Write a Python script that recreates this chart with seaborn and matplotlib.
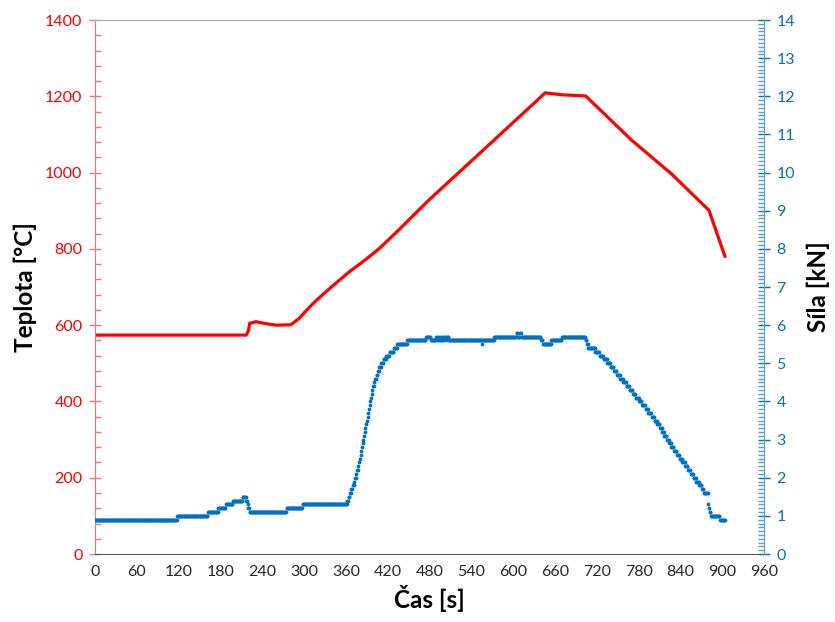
import numpy as np
import pandas as pd
import matplotlib.pyplot as plt
from matplotlib.ticker import MultipleLocator
import seaborn as sns

# Teplota - body
cas_teplota = [0, 100, 217, 220, 222, 231, 245, 260, 281, 293, 305, 317, 341, 365, 389, 408,
               436, 479, 560, 646, 670, 704, 770, 827, 881, 904]
teplota = [574, 574, 574, 585, 605, 609, 604, 600, 601, 618, 642, 664, 703, 740, 773, 801,
           850, 928, 1064, 1209, 1204, 1201, 1085, 997, 901, 780]

# Sila - useky s konstantni hodnotou (zacatek useku [s], hodnota [kN])
sila_zacatek = [0, 118, 162, 177, 188, 198, 212, 217, 219, 220, 222, 275, 298,
                362, 364, 366, 368, 370, 372, 373, 375, 376, 378, 379, 380, 381, 382,
                383, 384, 385, 386, 387, 388, 389, 390, 391, 392, 393, 394, 395, 396,
                397, 398, 399, 401, 402, 404, 406, 408, 411, 414, 418, 423, 429, 434,
                448, 475, 482, 490, 492, 494, 496, 498, 500, 502, 505, 506, 508, 556,
                557, 573, 605, 607, 610, 612, 640, 643, 655, 670, 704, 706, 708,
                718, 724, 730, 735, 740, 745, 749, 754, 758, 763, 767, 772, 776, 781,
                785, 790, 794, 799, 803, 807, 811, 814, 817, 821, 824, 827, 831, 835,
                839, 843, 847, 851, 855, 859, 863, 867, 871, 874, 880, 881, 882, 884, 897]
sila_hodnota = [0.9, 1.0, 1.1, 1.2, 1.3, 1.4, 1.5, 1.4, 1.3, 1.2, 1.1, 1.2, 1.3,
                1.4, 1.5, 1.6, 1.7, 1.8, 1.9, 2.0, 2.1, 2.2, 2.3, 2.4, 2.5, 2.6, 2.7,
                2.8, 2.9, 3.0, 3.1, 3.2, 3.3, 3.4, 3.5, 3.6, 3.7, 3.8, 3.9, 4.0, 4.1,
                4.2, 4.3, 4.4, 4.5, 4.6, 4.7, 4.8, 4.9, 5.0, 5.1, 5.2, 5.3, 5.4, 5.5,
                5.6, 5.7, 5.6, 5.7, 5.6, 5.7, 5.6, 5.7, 5.6, 5.7, 5.6, 5.7, 5.6, 5.5,
                5.6, 5.7, 5.8, 5.7, 5.8, 5.7, 5.6, 5.5, 5.6, 5.7, 5.6, 5.5, 5.4,
                5.3, 5.2, 5.1, 5.0, 4.9, 4.8, 4.7, 4.6, 4.5, 4.4, 4.3, 4.2, 4.1, 4.0,
                3.9, 3.8, 3.7, 3.6, 3.5, 3.4, 3.3, 3.2, 3.1, 3.0, 2.9, 2.8, 2.7, 2.6,
                2.5, 2.4, 2.3, 2.2, 2.1, 2.0, 1.9, 1.8, 1.7, 1.6, 1.3, 1.2, 1.1, 1.0, 0.9]
sila_konec = 905

# rozvinout useky na vzorky po 1 s
konce = sila_zacatek[1:] + [sila_konec]
t_sila, f_sila = [], []
for z, k, h in zip(sila_zacatek, konce, sila_hodnota):
    tt = np.arange(z, k, 1.0)
    t_sila.extend(tt)
    f_sila.extend([h] * len(tt))
df_sila = pd.DataFrame({'cas': t_sila, 'sila': f_sila})
df_tepl = pd.DataFrame({'cas': cas_teplota, 'teplota': teplota})

sns.set_style('white')
plt.rcParams['font.family'] = ['Lato', 'DejaVu Sans']

cervena = '#FF0000'
modra = '#0070C0'

fig = plt.figure(figsize=(8.35, 6.22), dpi=100)
ax1 = fig.add_axes([0.1138, 0.1093, 0.8012, 0.8585])
ax2 = ax1.twinx()

sns.lineplot(data=df_tepl, x='cas', y='teplota', ax=ax1, color=cervena, linewidth=2.3)
sns.scatterplot(data=df_sila, x='cas', y='sila', ax=ax2, color=modra, s=7.5,
                marker='o', linewidth=0)

ax1.set_xlim(0, 960)
ax1.set_ylim(0, 1400)
ax2.set_ylim(0, 14)

ax1.xaxis.set_major_locator(MultipleLocator(60))
ax1.xaxis.set_minor_locator(MultipleLocator(10))
ax1.yaxis.set_major_locator(MultipleLocator(200))
ax1.yaxis.set_minor_locator(MultipleLocator(40))
ax2.yaxis.set_major_locator(MultipleLocator(1))
ax2.yaxis.set_minor_locator(MultipleLocator(0.1))

# osy a ticky
ax1.spines['right'].set_visible(False)
ax1.spines['left'].set_color('#FF7070')
ax1.spines['top'].set_color('#A6A6A6')
ax1.spines['bottom'].set_color('#595959')
for s in ['left', 'top', 'bottom']:
    ax2.spines[s].set_visible(False)
ax2.spines['right'].set_color('#5B9BD5')

ax1.tick_params(axis='x', which='major', direction='inout', length=8, width=1,
                color='#595959', labelsize=11.5, labelcolor='#262626', pad=4)
ax1.tick_params(axis='x', which='minor', direction='in', length=4, width=1, color='#595959')
ax1.tick_params(axis='y', which='major', direction='inout', length=8, width=1,
                color='#FF7070', labelsize=11.5, labelcolor=cervena, pad=5)
ax1.tick_params(axis='y', which='minor', direction='in', length=4, width=1, color='#FF7070')
ax2.tick_params(axis='y', which='major', direction='inout', length=8, width=1,
                color=modra, labelsize=11.5, labelcolor=modra, pad=5)
ax2.tick_params(axis='y', which='minor', direction='in', length=4, width=1, color='#5B9BD5')

ax1.set_xlabel('Čas [s]', fontsize=17.5, fontweight='bold', color='black', labelpad=4)
ax1.set_ylabel('Teplota [°C]', fontsize=17.5, fontweight='bold', color='black', labelpad=6)
ax2.set_ylabel('Síla [kN]', fontsize=17.5, fontweight='bold', color='black',
               rotation=90, labelpad=8)

plt.savefig('out.png', dpi=100)
